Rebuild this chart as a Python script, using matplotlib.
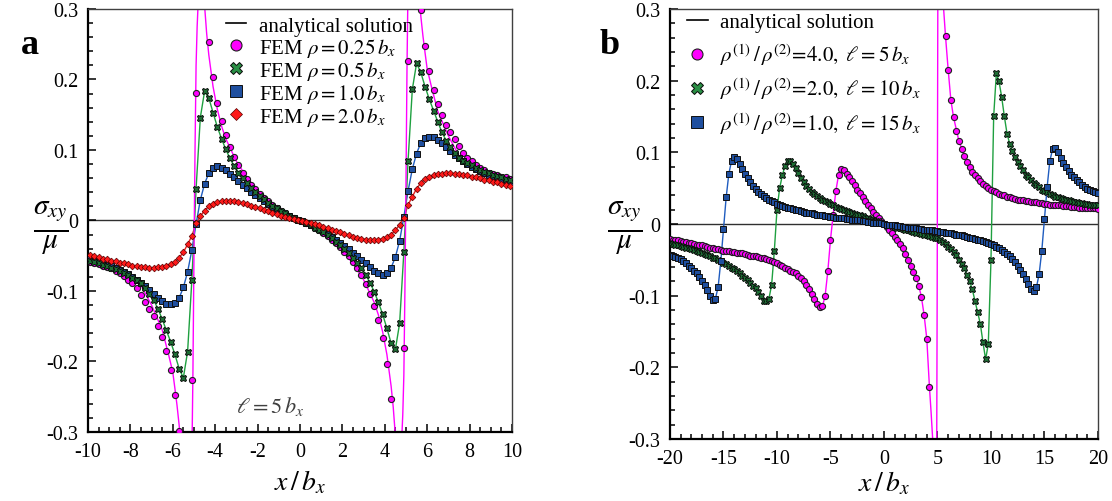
import numpy as np
import matplotlib
matplotlib.use("Agg")
import matplotlib.pyplot as plt
from matplotlib.lines import Line2D
from matplotlib.ticker import MultipleLocator, FuncFormatter

plt.rcParams["font.family"] = ["Liberation Serif", "DejaVu Serif"]
plt.rcParams["mathtext.fontset"] = "stix"
plt.rcParams["axes.unicode_minus"] = False

# ---------------- panel a : FEM nodes at x = -9.9 ... 9.9 (step 0.2) ----------------
xa = np.round(np.linspace(-9.9, 9.9, 100), 1)

fem_a_025 = [-0.059, -0.061, -0.062, -0.064, -0.066, -0.068, -0.071, -0.074, -0.079, -0.084,
             -0.089, -0.096, -0.105, -0.115, -0.125, -0.136, -0.149, -0.165, -0.185, -0.212,
             -0.248, -0.298, -0.400, -0.550, -0.226, 0.181, 0.500, 0.340, 0.253, 0.204,
             0.167, 0.141, 0.121, 0.104, 0.090, 0.078, 0.068, 0.059, 0.051, 0.044,
             0.038, 0.032, 0.027, 0.022, 0.018, 0.014, 0.010, 0.007, 0.004, 0.001,
             -0.001, -0.004, -0.007, -0.010, -0.014, -0.018, -0.022, -0.027, -0.032, -0.038,
             -0.044, -0.051, -0.059, -0.068, -0.078, -0.090, -0.104, -0.121, -0.141, -0.167,
             -0.204, -0.253, -0.340, -0.500, -0.181, 0.226, 0.550, 0.400, 0.298, 0.248,
             0.212, 0.185, 0.165, 0.149, 0.136, 0.125, 0.115, 0.105, 0.096, 0.089,
             0.084, 0.079, 0.074, 0.071, 0.068, 0.066, 0.064, 0.062, 0.061, 0.059]

fem_a_05 = [-0.057, -0.059, -0.061, -0.063, -0.065, -0.067, -0.069, -0.072, -0.075, -0.078,
            -0.081, -0.085, -0.089, -0.096, -0.104, -0.113, -0.125, -0.140, -0.156, -0.172,
            -0.190, -0.210, -0.223, -0.186, -0.085, 0.045, 0.146, 0.183, 0.174, 0.153,
            0.133, 0.116, 0.101, 0.088, 0.077, 0.068, 0.060, 0.053, 0.046, 0.040,
            0.035, 0.030, 0.025, 0.021, 0.017, 0.013, 0.010, 0.007, 0.004, 0.001,
            -0.001, -0.004, -0.007, -0.010, -0.013, -0.017, -0.021, -0.025, -0.030, -0.035,
            -0.040, -0.046, -0.053, -0.060, -0.068, -0.077, -0.088, -0.101, -0.116, -0.133,
            -0.153, -0.174, -0.183, -0.146, -0.045, 0.085, 0.186, 0.223, 0.210, 0.190,
            0.172, 0.156, 0.140, 0.125, 0.113, 0.104, 0.096, 0.089, 0.085, 0.081,
            0.078, 0.075, 0.072, 0.069, 0.067, 0.065, 0.063, 0.061, 0.059, 0.057]

fem_a_10 = [-0.055, -0.057, -0.059, -0.061, -0.063, -0.065, -0.067, -0.070, -0.073, -0.076,
            -0.080, -0.084, -0.088, -0.093, -0.099, -0.104, -0.110, -0.114, -0.118, -0.119,
            -0.117, -0.110, -0.095, -0.073, -0.042, -0.005, 0.029, 0.052, 0.067, 0.075,
            0.077, 0.075, 0.071, 0.066, 0.061, 0.056, 0.051, 0.046, 0.041, 0.036,
            0.032, 0.027, 0.023, 0.019, 0.015, 0.012, 0.008, 0.006, 0.003, 0.001,
            -0.001, -0.003, -0.006, -0.008, -0.012, -0.015, -0.019, -0.023, -0.027, -0.032,
            -0.036, -0.041, -0.046, -0.051, -0.056, -0.061, -0.066, -0.071, -0.075, -0.077,
            -0.075, -0.067, -0.052, -0.029, 0.005, 0.042, 0.073, 0.095, 0.110, 0.117,
            0.119, 0.118, 0.114, 0.110, 0.104, 0.099, 0.093, 0.088, 0.084, 0.080,
            0.076, 0.073, 0.070, 0.067, 0.065, 0.063, 0.061, 0.059, 0.057, 0.055]

fem_a_20 = [-0.049, -0.051, -0.052, -0.054, -0.055, -0.057, -0.058, -0.060, -0.061, -0.062,
            -0.064, -0.065, -0.066, -0.066, -0.067, -0.067, -0.066, -0.066, -0.064, -0.062,
            -0.059, -0.053, -0.045, -0.034, -0.022, -0.004, 0.006, 0.014, 0.020, 0.024,
            0.026, 0.027, 0.028, 0.028, 0.027, 0.026, 0.025, 0.023, 0.021, 0.019,
            0.017, 0.015, 0.013, 0.011, 0.009, 0.007, 0.005, 0.004, 0.002, 0.001,
            -0.001, -0.002, -0.004, -0.005, -0.007, -0.009, -0.011, -0.013, -0.015, -0.017,
            -0.019, -0.021, -0.023, -0.025, -0.026, -0.027, -0.028, -0.028, -0.027, -0.026,
            -0.024, -0.020, -0.014, -0.006, 0.004, 0.022, 0.034, 0.045, 0.053, 0.059,
            0.062, 0.064, 0.066, 0.066, 0.067, 0.067, 0.066, 0.066, 0.065, 0.064,
            0.062, 0.061, 0.060, 0.058, 0.057, 0.055, 0.054, 0.052, 0.051, 0.049]

# analytical curve for rho = 0.25 b_x (needs finer sampling near the cores)
ana_a_025_x = [-10, -9.5, -9, -8.5, -8, -7.5, -7, -6.5, -6.2, -6.0,
               -5.9, -5.8, -5.7, -5.6, -5.5, -5.4, -5.3, -5.2, -5.15, -5.1,
               -5.05, -5.0, -4.95, -4.9, -4.85, -4.8, -4.7, -4.6, -4.5, -4.4,
               -4.3, -4.1, -3.9, -3.7, -3.5, -3.0, -2.5, -2.0, -1.5, -1.0,
               -0.5, 0,
               0.5, 1.0, 1.5, 2.0, 2.5, 3.0, 3.5, 3.7, 3.9, 4.1,
               4.3, 4.4, 4.5, 4.6, 4.7, 4.8, 4.85, 4.9, 4.95, 5.0,
               5.05, 5.1, 5.15, 5.2, 5.3, 5.4, 5.5, 5.6, 5.7, 5.8,
               5.9, 6.0, 6.2, 6.5, 7, 7.5, 8, 8.5, 9, 9.5, 10]
ana_a_025_y = [-0.055, -0.059, -0.063, -0.069, -0.077, -0.092, -0.120, -0.155, -0.190, -0.215,
               -0.238, -0.262, -0.290, -0.330, -0.390, -0.470, -0.540, -0.520, -0.420, -0.340,
               -0.220, -0.050, 0.100, 0.220, 0.275, 0.310, 0.380, 0.360, 0.305, 0.265,
               0.235, 0.190, 0.158, 0.134, 0.116, 0.084, 0.061, 0.043, 0.029, 0.018,
               0.008, 0.0,
               -0.008, -0.018, -0.029, -0.043, -0.061, -0.084, -0.116, -0.134, -0.158, -0.190,
               -0.235, -0.265, -0.305, -0.360, -0.380, -0.310, -0.275, -0.220, -0.100, 0.050,
               0.220, 0.340, 0.420, 0.520, 0.540, 0.470, 0.390, 0.330, 0.290, 0.262,
               0.238, 0.215, 0.190, 0.155, 0.120, 0.092, 0.077, 0.069, 0.063, 0.059, 0.055]

labels_a = ["FEM $\\rho = 0.25\\,b_x$", "FEM $\\rho = 0.5\\,b_x$",
            "FEM $\\rho = 1.0\\,b_x$", "FEM $\\rho = 2.0\\,b_x$"]

# ---------------- panel b : FEM nodes at x = -20 ... 20 (step 0.25) ----------------
xb = np.linspace(-20, 20, 161)

fem_b_4 = [-0.021, -0.022, -0.022, -0.023, -0.024, -0.025, -0.025, -0.026, -0.027, -0.028,
           -0.029, -0.029, -0.030, -0.031, -0.032, -0.033, -0.034, -0.035, -0.035, -0.036,
           -0.037, -0.037, -0.038, -0.039, -0.039, -0.040, -0.041, -0.041, -0.042, -0.043,
           -0.044, -0.044, -0.045, -0.046, -0.047, -0.048, -0.049, -0.050, -0.052, -0.053,
           -0.055, -0.057, -0.059, -0.061, -0.063, -0.065, -0.067, -0.069, -0.072, -0.075,
           -0.079, -0.085, -0.091, -0.097, -0.104, -0.111, -0.116, -0.115, -0.100, -0.066,
           -0.022, 0.013, 0.046, 0.068, 0.077, 0.075, 0.070, 0.065, 0.060, 0.054,
           0.048, 0.043, 0.038, 0.032, 0.027, 0.022, 0.017, 0.012, 0.008, 0.004,
           0.000,
           -0.004, -0.008, -0.013, -0.018, -0.022, -0.028, -0.034, -0.042, -0.050, -0.058,
           -0.067, -0.075, -0.086, -0.102, -0.127, -0.160, -0.228, -0.340, -0.600, 0.900,
           0.600, 0.330, 0.262, 0.215, 0.173, 0.149, 0.130, 0.116, 0.104, 0.095,
           0.086, 0.079, 0.073, 0.068, 0.064, 0.060, 0.056, 0.053, 0.050, 0.048,
           0.046, 0.044, 0.042, 0.041, 0.040, 0.038, 0.037, 0.036, 0.035, 0.034,
           0.034, 0.033, 0.032, 0.032, 0.031, 0.030, 0.030, 0.029, 0.029, 0.028,
           0.028, 0.027, 0.027, 0.026, 0.026, 0.026, 0.025, 0.025, 0.025, 0.024,
           0.024, 0.024, 0.023, 0.023, 0.023, 0.022, 0.022, 0.022, 0.022, 0.021]

fem_b_2 = [-0.027, -0.028, -0.029, -0.030, -0.031, -0.032, -0.033, -0.034, -0.035, -0.036,
           -0.038, -0.039, -0.040, -0.042, -0.043, -0.045, -0.047, -0.048, -0.050, -0.052,
           -0.054, -0.056, -0.058, -0.061, -0.063, -0.066, -0.069, -0.072, -0.075, -0.078,
           -0.082, -0.086, -0.090, -0.095, -0.101, -0.107, -0.108, -0.104, -0.085, -0.038,
           0.020, 0.050, 0.068, 0.081, 0.088, 0.088, 0.084, 0.078, 0.071, 0.064,
           0.058, 0.053, 0.049, 0.045, 0.042, 0.039, 0.036, 0.034, 0.032, 0.030,
           0.028, 0.026, 0.024, 0.023, 0.021, 0.020, 0.018, 0.017, 0.016, 0.014,
           0.013, 0.012, 0.011, 0.009, 0.008, 0.007, 0.006, 0.004, 0.003, 0.002,
           0.000,
           -0.001, -0.002, -0.003, -0.004, -0.005, -0.006, -0.007, -0.008, -0.009, -0.010,
           -0.011, -0.012, -0.013, -0.014, -0.015, -0.016, -0.017, -0.018, -0.019, -0.020,
           -0.022, -0.025, -0.028, -0.032, -0.035, -0.039, -0.043, -0.050, -0.056, -0.062,
           -0.071, -0.080, -0.091, -0.107, -0.123, -0.139, -0.165, -0.189, -0.167, -0.050,
           0.150, 0.210, 0.199, 0.177, 0.150, 0.126, 0.112, 0.102, 0.094, 0.087,
           0.081, 0.075, 0.069, 0.065, 0.061, 0.057, 0.054, 0.051, 0.048, 0.046,
           0.044, 0.042, 0.040, 0.038, 0.037, 0.036, 0.035, 0.034, 0.033, 0.032,
           0.031, 0.030, 0.029, 0.029, 0.028, 0.028, 0.027, 0.027, 0.026, 0.026]

fem_b_1 = [-0.043, -0.044, -0.046, -0.047, -0.049, -0.052, -0.055, -0.058, -0.061, -0.065,
           -0.069, -0.074, -0.079, -0.085, -0.092, -0.100, -0.106, -0.104, -0.088, -0.052,
           -0.007, 0.037, 0.070, 0.088, 0.094, 0.091, 0.084, 0.077, 0.070, 0.064,
           0.058, 0.053, 0.049, 0.045, 0.042, 0.039, 0.036, 0.034, 0.032, 0.030,
           0.028, 0.027, 0.025, 0.024, 0.023, 0.022, 0.021, 0.020, 0.019, 0.018,
           0.017, 0.016, 0.015, 0.015, 0.014, 0.013, 0.013, 0.012, 0.011, 0.011,
           0.010, 0.010, 0.009, 0.009, 0.008, 0.008, 0.007, 0.007, 0.006, 0.006,
           0.005, 0.005, 0.004, 0.004, 0.003, 0.003, 0.002, 0.002, 0.001, 0.001,
           0.000,
           -0.001, -0.001, -0.002, -0.002, -0.003, -0.003, -0.004, -0.004, -0.005, -0.005,
           -0.006, -0.006, -0.007, -0.007, -0.008, -0.008, -0.009, -0.009, -0.010, -0.010,
           -0.011, -0.011, -0.012, -0.013, -0.013, -0.014, -0.015, -0.015, -0.016, -0.017,
           -0.018, -0.019, -0.020, -0.021, -0.022, -0.023, -0.024, -0.025, -0.027, -0.028,
           -0.030, -0.032, -0.034, -0.036, -0.039, -0.042, -0.045, -0.049, -0.053, -0.058,
           -0.064, -0.070, -0.077, -0.084, -0.091, -0.094, -0.088, -0.070, -0.037, 0.007,
           0.052, 0.088, 0.104, 0.106, 0.100, 0.092, 0.085, 0.079, 0.074, 0.069,
           0.065, 0.061, 0.058, 0.055, 0.052, 0.049, 0.047, 0.046, 0.044, 0.043]

# analytical curve for rho1/rho2 = 4 (sharp core at x = +5)
ana_b_4_x = [-20, -18, -16, -14, -12, -10, -9, -8, -7.5, -7,
             -6.5, -6.25, -6, -5.75, -5.5, -5.25, -5, -4.75, -4.5, -4.25,
             -4, -3.75, -3.5, -3, -2.5, -2, -1.5, -1, -0.5, 0,
             0.5, 1, 1.5, 2, 2.5, 3, 3.25, 3.5, 3.75, 4,
             4.25, 4.4, 4.55, 4.7, 4.8, 4.88, 4.93, 4.97, 5.0, 5.03,
             5.08, 5.15, 5.25, 5.4, 5.55, 5.75, 6, 6.25, 6.5, 7,
             7.5, 8, 9, 10, 12, 14, 16, 18, 20]
ana_b_4_y = [-0.021, -0.027, -0.034, -0.039, -0.045, -0.055, -0.063, -0.072, -0.079, -0.091,
             -0.104, -0.111, -0.116, -0.115, -0.100, -0.066, -0.022, 0.013, 0.046, 0.068,
             0.077, 0.075, 0.070, 0.060, 0.048, 0.038, 0.027, 0.017, 0.008, 0.0,
             -0.008, -0.018, -0.028, -0.042, -0.058, -0.075, -0.086, -0.102, -0.127, -0.160,
             -0.228, -0.262, -0.300, -0.360, -0.420, -0.450, -0.300, -0.100, 0.100, 0.300,
             0.450, 0.480, 0.430, 0.360, 0.305, 0.262, 0.215, 0.173, 0.149, 0.116,
             0.095, 0.079, 0.060, 0.048, 0.036, 0.030, 0.026, 0.024, 0.021]

labels_b = ["$\\rho^{(1)}\\,/\\,\\rho^{(2)}\\!=\\!4.0,\\ \\ell = 5\\,b_x$",
            "$\\rho^{(1)}\\,/\\,\\rho^{(2)}\\!=\\!2.0,\\ \\ell = 10\\,b_x$",
            "$\\rho^{(1)}\\,/\\,\\rho^{(2)}\\!=\\!1.0,\\ \\ell = 15\\,b_x$"]

# ---------------- styles ----------------
c_mag, c_grn, c_blu, c_red = "#ff00ff", "#1fa040", "#1f5cbf", "#e8201e"
sty_mag = dict(marker="o", ms=4.4, mfc="#ff00ff", mec="#202020", mew=0.8, ls="none")
sty_grn = dict(marker="X", ms=4.8, mfc="#1d6e34", mec="#0a0a0a", mew=0.7, ls="none")
sty_blu = dict(marker="s", ms=4.8, mfc="#1f4f9f", mec="#101010", mew=0.7, ls="none")
sty_red = dict(marker="D", ms=3.4, mfc="#ff1a1a", mec="#5a0000", mew=0.5, ls="none")

fig = plt.figure(figsize=(11.12, 5.02), dpi=100)
axa = fig.add_axes([0.0791, 0.1375, 0.3813, 0.8426])
axb = fig.add_axes([0.6025, 0.1235, 0.3849, 0.8566])


def style_axes(ax, xmaj, xmin, lpad):
    ax.set_ylim(-0.3, 0.3)
    ax.yaxis.set_major_locator(MultipleLocator(0.1))
    ax.yaxis.set_minor_locator(MultipleLocator(0.02))
    ax.xaxis.set_major_locator(MultipleLocator(xmaj))
    ax.xaxis.set_minor_locator(MultipleLocator(xmin))
    ax.yaxis.set_major_formatter(FuncFormatter(lambda v, p: "0" if abs(v) < 1e-9 else f"{v:.1f}"))
    ax.xaxis.set_major_formatter(FuncFormatter(lambda v, p: f"{v:.0f}"))
    ax.tick_params(which="both", direction="in", top=False, right=False, labelsize=14.5, width=1.1)
    ax.tick_params(which="major", length=6, pad=7)
    ax.tick_params(which="minor", length=3.5)
    for s in ("left", "bottom"):
        ax.spines[s].set_linewidth(1.6)
        ax.spines[s].set_color("black")
    for s in ("top", "right"):
        ax.spines[s].set_linewidth(1.0)
        ax.spines[s].set_color("#404040")
    ax.axhline(0, color="#303030", lw=1.0, zorder=1)
    ax.set_xlabel("$x\\,/\\,b_x$", fontsize=20, labelpad=lpad)


# ---- panel a ----
axa.set_xlim(-10, 10)
style_axes(axa, 2, 0.5, 5)
axa.plot(xa, fem_a_20, color=c_red, lw=1.0, zorder=2)
axa.plot(xa, fem_a_10, color=c_blu, lw=1.0, zorder=2)
axa.plot(xa, fem_a_05, color=c_grn, lw=1.0, zorder=2)
axa.plot(ana_a_025_x, ana_a_025_y, color=c_mag, lw=1.0, zorder=2)
axa.plot(xa, fem_a_025, zorder=3, **sty_mag)
axa.plot(xa, fem_a_10, zorder=4, **sty_blu)
axa.plot(xa, fem_a_05, zorder=5, **sty_grn)
axa.plot(xa, fem_a_20, zorder=6, **sty_red)
axa.text(-1.4, -0.262, "$\\ell = 5\\,b_x$", fontsize=16, color="#404040", ha="center", va="center")

hand_a = [Line2D([], [], color="black", lw=1.2),
          Line2D([], [], **sty_mag), Line2D([], [], **sty_grn),
          Line2D([], [], **sty_blu), Line2D([], [], **sty_red)]
for h in hand_a[1:]:
    h.set_markersize(h.get_markersize() * 1.8)
hand_a[2].set_markerfacecolor("#2a8f45")
axa.legend(hand_a, ["analytical solution"] + labels_a, loc="upper left",
           bbox_to_anchor=(0.29, 1.018), frameon=False, fontsize=15,
           handlelength=1.0, handletextpad=0.6, labelspacing=0.0, borderpad=0.2)

# ---- panel b ----
axb.set_xlim(-20, 20)
style_axes(axb, 5, 1, 1)
axb.plot(xb, fem_b_1, color=c_blu, lw=1.0, zorder=2)
axb.plot(xb, fem_b_2, color=c_grn, lw=1.0, zorder=2)
axb.plot(ana_b_4_x, ana_b_4_y, color=c_mag, lw=1.0, zorder=2)
axb.plot(xb, fem_b_4, zorder=3, **sty_mag)
axb.plot(xb, fem_b_2, zorder=4, **sty_grn)
axb.plot(xb, fem_b_1, zorder=5, **sty_blu)

hand_b = [Line2D([], [], color="black", lw=1.2),
          Line2D([], [], **sty_mag), Line2D([], [], **sty_grn), Line2D([], [], **sty_blu)]
for h in hand_b[1:]:
    h.set_markersize(h.get_markersize() * 1.8)
hand_b[2].set_markerfacecolor("#2a8f45")
axb.legend(hand_b, ["analytical solution"] + labels_b, loc="upper left",
           bbox_to_anchor=(0.005, 1.025), frameon=False, fontsize=15,
           handlelength=1.0, handletextpad=0.6, labelspacing=0.42, borderpad=0.2)

# y-labels (fraction) and panel letters
fig.text(0.046, 0.545, "$\\frac{\\sigma_{xy}}{\\mu}$", fontsize=30, ha="center", va="center")
fig.text(0.562, 0.545, "$\\frac{\\sigma_{xy}}{\\mu}$", fontsize=30, ha="center", va="center")
fig.text(0.027, 0.91, "a", fontsize=26, fontweight="bold", ha="center", va="center")
fig.text(0.548, 0.91, "b", fontsize=26, fontweight="bold", ha="center", va="center")

fig.savefig("out.png", dpi=100, facecolor="white")
